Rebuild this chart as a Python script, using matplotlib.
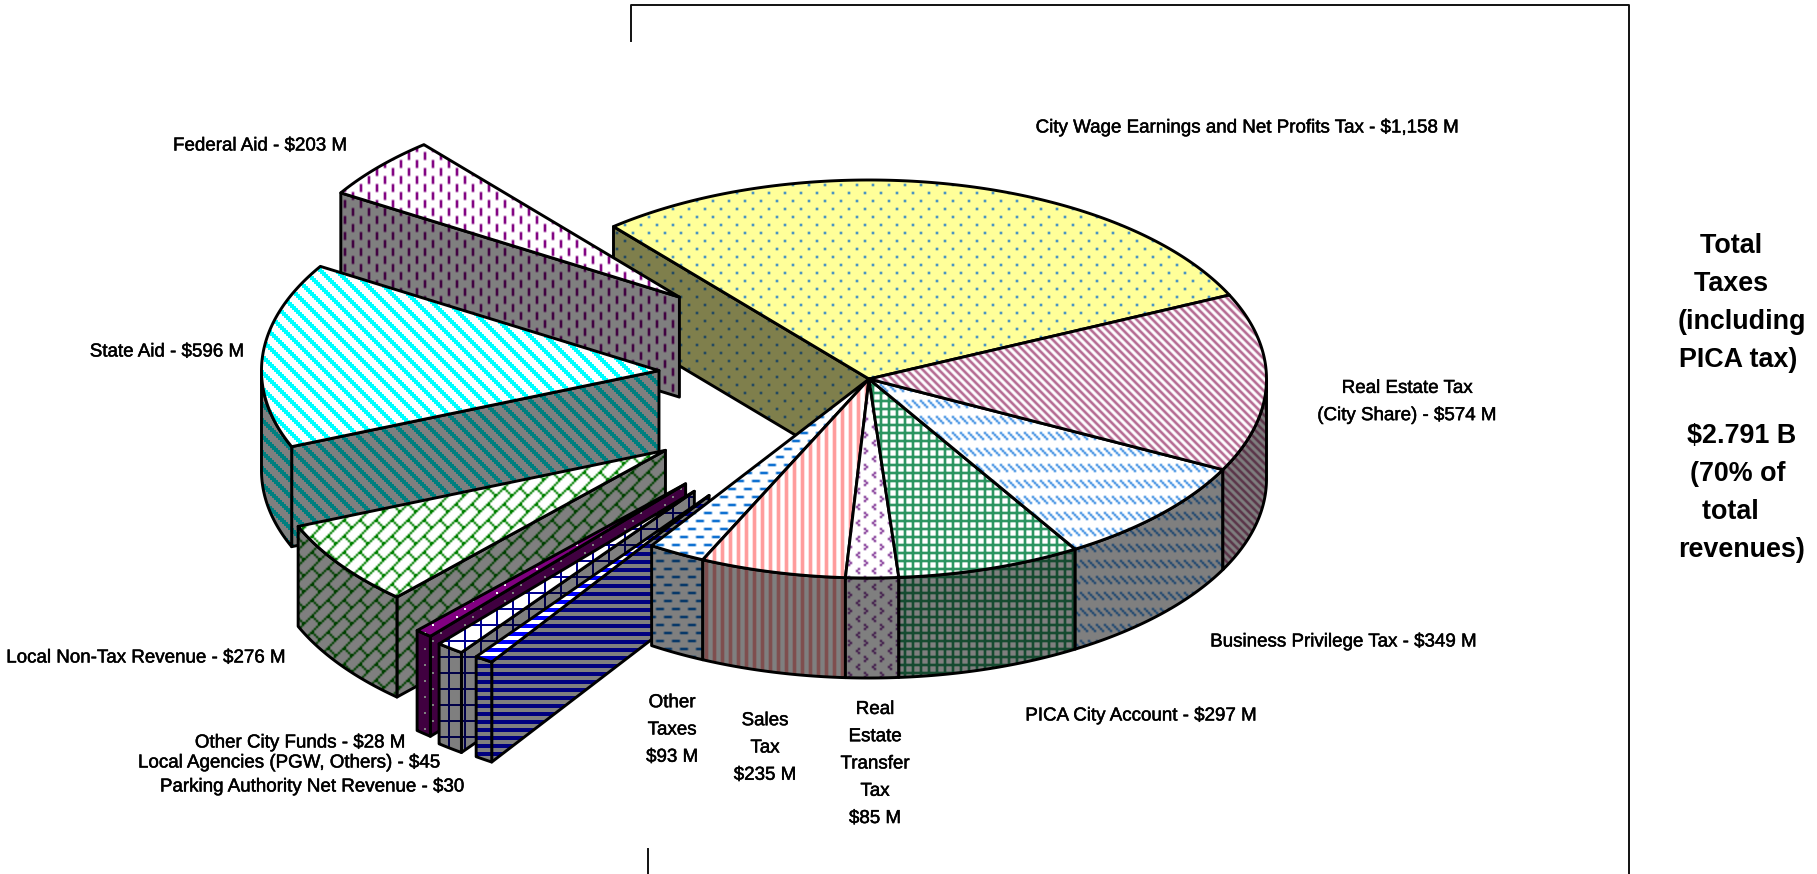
import numpy as np
import matplotlib
matplotlib.use("Agg")
import matplotlib.pyplot as plt
import matplotlib.patheffects as pe
from matplotlib.patches import Polygon

W, H = 1817, 874

# revenue in $M, clockwise from the cut at -40 deg
slices = ["City Wage", "Real Estate", "Business Privilege", "PICA City Account",
          "Real Estate Transfer", "Sales", "Other Taxes", "Parking Authority",
          "Local Agencies", "Other City Funds", "Local Non-Tax", "State Aid", "Federal Aid"]
values = [1158, 574, 349, 297, 85, 235, 93, 30, 45, 28, 276, 596, 203]
explode = [0, 0, 0, 0, 0, 0, 0, 0.71, 0.715, 0.70, 0.625, 0.53, 0.63]

labels = ["City Wage Earnings and Net Profits Tax - $1,158 M",
          "Real Estate Tax\n(City Share) - $574 M",
          "Business Privilege Tax - $349 M",
          "PICA City Account - $297 M",
          "Real\nEstate\nTransfer\nTax\n$85 M",
          "Sales\nTax\n$235 M",
          "Other\nTaxes\n$93 M",
          "Parking Authority Net Revenue - $30",
          "Local Agencies (PGW, Others) - $45",
          "Other City Funds - $28 M",
          "Local Non-Tax Revenue - $276 M",
          "State Aid - $596 M",
          "Federal Aid - $203 M"]
label_xy = [(1247, 128), (1407, 402), (1343, 642), (1141, 716), (875, 764), (765, 748),
            (672, 730), (312, 787), (289, 763), (300, 743), (146, 658), (167, 352), (260, 146)]

# trailing spaces keep the short lines off centre like the original box
side_text = "Total   \nTaxes   \n(including\nPICA tax) \n\n$2.791 B\n(70% of \ntotal   \nrevenues)"

# bit patterns, one char = scale pixels
DOTS = ["10000000", "00000000", "00000000", "00000000", "00001000", "00000000", "00000000", "00000000"]
FINE_DIAG = ["11100000", "01110000", "00111000", "00011100", "00001110", "00000111", "10000011", "11000001"]
DASH_DIAG = ["1000", "0100", "0010", "0001", "0000", "0000", "0000", "0000"]
PLAID = ["1111", "1000", "1000", "1000"]
CHEVRON = ["10000000", "01000000", "10000000", "00000000", "00000100", "00001000", "00000100", "00000000"]
VSTRIPE = ["01110000"]
HDASH = ["11110000", "00000000", "00000000", "00000000", "00001111", "00000000", "00000000", "00000000"]
HSTRIPE = ["1", "1", "0", "0"]
GRID = ["11111111", "10000000", "10000000", "10000000", "10000000", "10000000", "10000000", "10000000"]
BRICK = ["00000001", "00000010", "00000100", "00001000", "00011000", "00100100", "01000010", "10000001"]
WIDE_DIAG = ["11100000", "01110000", "00111000", "00011100", "00001110", "00000111", "10000011", "11000001"]
VDASH = ["10000000", "10000000", "10000000", "10000000", "00001000", "00001000", "00001000", "00001000"]

# pattern, fg, bg, scale, blur
styles = [(DOTS, "#0a6ed0", "#ffff99", 2, True),
          (FINE_DIAG, "#b56a92", "#ffffff", 1, True),
          (DASH_DIAG, "#2f86e0", "#ffffff", 2, True),
          (PLAID, "#2a9460", "#ffffff", 2, True),
          (CHEVRON, "#7a2a90", "#ffffff", 2, True),
          (VSTRIPE, "#ff9c9c", "#ffffff", 1, True),
          (HDASH, "#0a6ed0", "#ffffff", 2, True),
          (HSTRIPE, "#0000ff", "#ffffff", 2, False),
          (GRID, "#000090", "#ffffff", 2, False),
          (DOTS, "#ffffff", "#800080", 2, False),
          (BRICK, "#008000", "#ffffff", 2, True),
          (WIDE_DIAG, "#00ffff", "#ffffff", 2, False),
          (VDASH, "#800080", "#ffffff", 2, True)]


def to_rgb(c):
    return np.array(matplotlib.colors.to_rgb(c))


def pattern_image(rows, fg, bg, scale, blur, shade=1.0):
    bits = np.array([[ch == "1" for ch in r] for r in rows], dtype=float)
    yi = (np.arange(H) / scale).astype(int) % bits.shape[0]
    xi = (np.arange(W) / scale).astype(int) % bits.shape[1]
    m = bits[np.ix_(yi, xi)]
    if blur:
        m = 0.5 * m + 0.25 * (np.roll(m, 1, 0) + np.roll(m, -1, 0))
        m = 0.5 * m + 0.25 * (np.roll(m, 1, 1) + np.roll(m, -1, 1))
        m = np.clip(m * 1.3, 0, 1)
    m = m[..., None]
    rgb = (to_rgb(bg) * (1 - m) + to_rgb(fg) * m) * shade
    return (rgb * 255).astype(np.uint8)


fig = plt.figure(figsize=(W / 100, H / 100), dpi=100)
ax = fig.add_axes([0, 0, 1, 1])
ax.set_axis_off()

cx, cy = 869, 379
rx, ry = 397.5, 199
depth = 100
LW = 2.1
z = [1]


def ell(a, ox, oy):
    r = np.radians(a)
    return np.column_stack([ox + rx * np.sin(r), oy - ry * np.cos(r)])


def face(pts, img):
    z[0] += 1
    p = Polygon(pts, closed=True, fill=False, ec="black", lw=LW, zorder=z[0] + 0.5, joinstyle="round")
    ax.add_patch(p)
    im = ax.imshow(img, extent=(0, W, H, 0), interpolation="nearest", aspect="auto", zorder=z[0])
    im.set_clip_path(p)


total = sum(values)
edges = -40 + np.cumsum([0] + values) / total * 360


def draw_slice(i):
    t1, t2 = edges[i], edges[i + 1]
    mid = (t1 + t2) / 2
    r = np.radians(mid)
    ox = cx + explode[i] * rx * np.sin(r)
    oy = cy - explode[i] * ry * np.cos(r)
    top = pattern_image(*styles[i])
    side = pattern_image(*styles[i], shade=0.5)
    # the start cut only shows where the previous slice has moved away
    if explode[i] > 0 or i == 0:
        p = ell(t1, ox, oy)[0]
        face([(ox, oy), tuple(p), (p[0], p[1] + depth), (ox, oy + depth)], side)
    a1, a2 = max(t1, 90), min(t2, 270)
    if a2 > a1:
        arc = ell(np.linspace(a1, a2, 80), ox, oy)
        low = arc[::-1] + [0, depth]
        face(np.vstack([arc, low]), side)
    arc = ell(np.linspace(t1, t2, 160), ox, oy)
    face(np.vstack([[(ox, oy)], arc]), top)


# back to front, the exploded ones sit over the yellow cut but under the rest
for i in [0, 12, 11, 10, 9, 8, 7, 6, 5, 4, 3, 2, 1]:
    draw_slice(i)

ax.set_xlim(0, W)
ax.set_ylim(H, 0)

# leftover frame
ax.plot([631, 631, 1629, 1629], [41, 5, 5, 874], color="#111111", lw=1.4, zorder=1)
ax.plot([648, 648], [849, 874], color="#111111", lw=1.4, zorder=1)

heavier = [pe.withStroke(linewidth=0.35, foreground="black")]
for (x, y), s in zip(label_xy, labels):
    ax.text(x, y, s, ha="center", va="center", fontsize=13.5, color="black",
            family=["Liberation Sans"], linespacing=1.79, zorder=100, path_effects=heavier)

ax.text(1742, 398, side_text, ha="center", va="center", fontsize=19.4, fontweight="bold",
        family=["Liberation Sans"], linespacing=1.596, zorder=100)

fig.savefig("out.png", dpi=100)
